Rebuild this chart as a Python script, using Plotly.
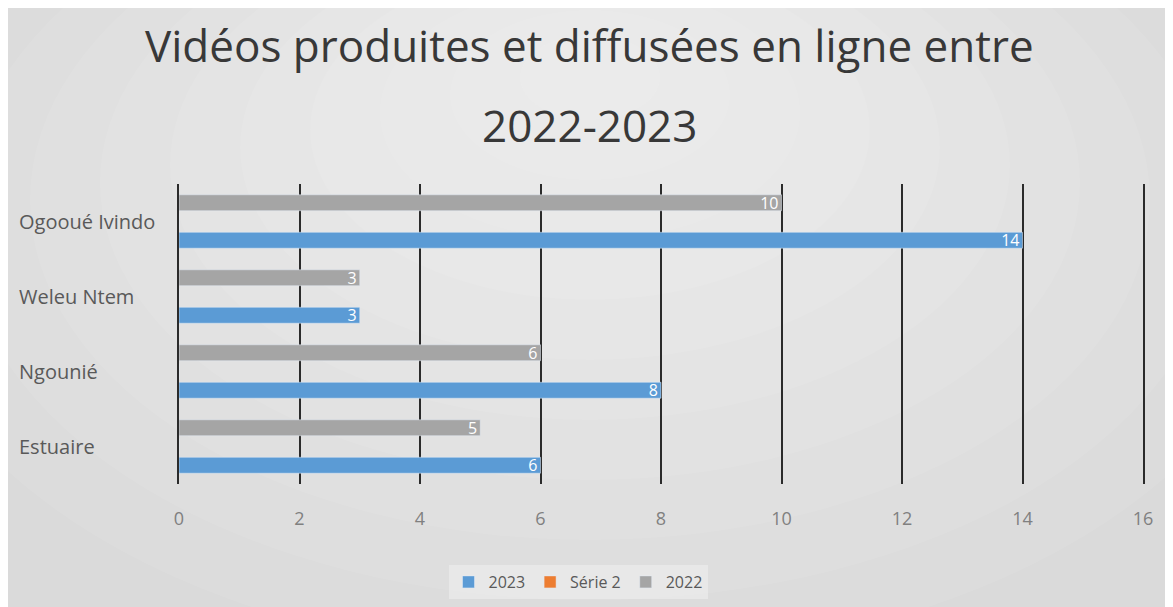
import plotly.graph_objects as go

categories = ["Estuaire", "Ngounié", "Weleu Ntem", "Ogooué Ivindo"]
series_2023 = [6, 8, 3, 14]
series_serie2 = [0, 0, 0, 0]
series_2022 = [5, 6, 3, 10]
x_ticks = [0, 2, 4, 6, 8, 10, 12, 14, 16]
title_line1 = "Vidéos produites et diffusées en ligne entre"
title_line2 = "2022-2023"

W, H = 1173, 607
OFF = 8  # page body margin
L, R, T, B = 171, 38, 176, 131
pw, ph = W - L - R, H - T - B

def px_x(p):
    return (p - OFF - L) / pw

def px_y(p):
    return (H - B - (p - OFF)) / ph

FONT = "Open Sans, sans-serif"

fig = go.Figure()
fig.add_trace(go.Bar(
    y=categories, x=series_2023, name="2023", orientation="h",
    marker_color="#5b9bd5", text=[str(v) for v in series_2023],
    textposition="inside", insidetextanchor="end", constraintext="none",
    textangle=0,
    textfont=dict(color="white", size=16, family=FONT),
))
fig.add_trace(go.Bar(
    y=categories, x=series_serie2, name="Série 2", orientation="h",
    marker_color="#ed7d31",
))
fig.add_trace(go.Bar(
    y=categories, x=series_2022, name="2022", orientation="h",
    marker_color="#a5a5a5", text=[str(v) for v in series_2022],
    textposition="inside", insidetextanchor="end", constraintext="none",
    textangle=0,
    textfont=dict(color="white", size=16, family=FONT),
))

shapes = []
for i in range(10):
    f = 1 - i / 10
    shapes.append(dict(type="circle", xref="paper", yref="paper",
                       x0=px_x(590 - 700 * f), x1=px_x(590 + 700 * f),
                       y0=px_y(-250 * f + 60), y1=px_y(60 + 600 * f),
                       fillcolor="white", opacity=0.08, line_width=0,
                       layer="below"))

annotations = [
    dict(text=title_line1, xref="paper", yref="paper", x=px_x(589), y=px_y(45),
         showarrow=False, font=dict(size=44, color="#383838", family=FONT),
         xanchor="center", yanchor="middle"),
    dict(text=title_line2, xref="paper", yref="paper", x=px_x(589), y=px_y(125),
         showarrow=False, font=dict(size=44, color="#383838", family=FONT),
         xanchor="center", yanchor="middle"),
]
for c in categories:
    annotations.append(dict(text=c, xref="paper", yref="y", x=px_x(17), y=c,
                            showarrow=False, xanchor="left", yanchor="middle",
                            font=dict(size=20, color="#595959", family=FONT)))

fig.update_layout(
    width=W, height=H,
    margin=dict(l=L, r=R, t=T, b=B),
    paper_bgcolor="#dadada", plot_bgcolor="rgba(0,0,0,0)",
    barmode="group", bargap=0.25, bargroupgap=0.15,
    shapes=shapes, annotations=annotations,
    showlegend=True,
    legend=dict(orientation="h", x=px_x(578), y=px_y(582), xanchor="center",
                yanchor="middle", font=dict(size=16, color="#595959", family=FONT),
                bgcolor="rgba(238,238,238,0.6)", itemwidth=30, traceorder="normal"),
    xaxis=dict(range=[0, 16], tickvals=x_ticks, showgrid=True, gridcolor="#2b2b2b",
               gridwidth=2, zeroline=False, showline=False,
               tickfont=dict(size=18, color="#808080", family=FONT),
               ticklabelstandoff=22),
    yaxis=dict(showticklabels=False, showgrid=False, zeroline=False,
               showline=True, mirror=True, linecolor="#2b2b2b", linewidth=2,
               categoryorder="array", categoryarray=categories),
    font=dict(family=FONT),
)
fig.write_html("out.html")
